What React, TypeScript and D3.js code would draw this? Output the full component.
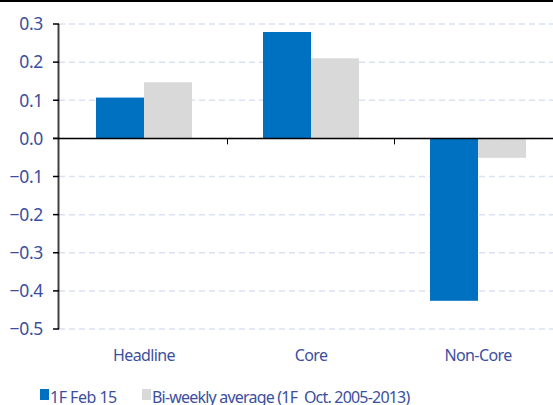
import React from "react";
import * as d3 from "d3";

const categories = ["Headline", "Core", "Non-Core"];
const seriesNames = ["1F Feb 15", "Bi-weekly average (1F  Oct. 2005-2013)"];
const febValues = [0.107, 0.279, -0.426];
const avgValues = [0.147, 0.21, -0.051];
const yTicks = [0.3, 0.2, 0.1, 0.0, -0.1, -0.2, -0.3, -0.4, -0.5];

const colors = ["#0070c0", "#d9d9d9"];
const textColor = "#3b4f9e";
const font = "'Noto Sans', sans-serif";

export default function App() {
  const W = 553, H = 405;
  const x = d3.scaleBand<string>().domain(categories).range([60.5, 561.5]);
  const y = d3.scaleLinear().domain([-0.5, 0.3]).range([329, 24]);
  const barW = 48;
  const series = [febValues, avgValues];

  return (
    <div style={{ position: "absolute", left: 0, top: 0 }}>
      <svg width={W} height={H} style={{ display: "block", fontFamily: font }}>
        <rect x={0} y={0} width={W} height={H} fill="#fff" />
        <rect x={0} y={0} width={W} height={2} fill="#000" />
        {yTicks.map((t) => (
          <line key={"g" + t} x1={59} x2={W} y1={y(t)} y2={y(t)} stroke="#d9e2f1" strokeWidth={1.5} strokeDasharray="6,4" />
        ))}
        {categories.map((c, i) =>
          series.map((s, j) => {
            const v = s[i];
            const cx = (x(c) as number) + x.bandwidth() / 2;
            const bx = cx - barW + j * barW;
            return (
              <rect key={c + j} x={bx} width={barW} y={Math.min(y(v), y(0))} height={Math.abs(y(v) - y(0))} fill={colors[j]} />
            );
          })
        )}
        <line x1={58.5} x2={58.5} y1={y(0.3)} y2={y(-0.5)} stroke="#404040" strokeWidth={2} />
        {yTicks.map((t) => (
          <g key={"t" + t}>
            <line x1={53} x2={59} y1={y(t)} y2={y(t)} stroke="#000" strokeWidth={1.5} />
            <text x={43} y={y(t)} dy="0.36em" textAnchor="end" fontSize={17.5} fill={textColor} letterSpacing={-0.3}>
              {d3.format(".1f")(t)}
            </text>
          </g>
        ))}
        <line x1={53} x2={W} y1={y(0)} y2={y(0)} stroke="#000" strokeWidth={1.5} />
        {categories.slice(1).map((c) => (
          <line key={"ct" + c} x1={x(c) as number} x2={x(c) as number} y1={y(0)} y2={y(0) + 6} stroke="#000" strokeWidth={1} />
        ))}
        {categories.map((c) => (
          <text key={"l" + c} x={(x(c) as number) + x.bandwidth() / 2} y={361} textAnchor="middle" fontSize={16} fill={textColor} letterSpacing={-0.6}>
            {c}
          </text>
        ))}
        <rect x={40} y={389} width={9} height={11} fill={colors[0]} />
        <text x={50} y={402.5} fontSize={16} fill={textColor} letterSpacing={-0.5}>{seriesNames[0]}</text>
        <rect x={142} y={389} width={9} height={11} fill={colors[1]} />
        <text x={152} y={402.5} fontSize={16} fill={textColor} letterSpacing={-0.8} style={{ whiteSpace: "pre" }}>{seriesNames[1]}</text>
      </svg>
    </div>
  );
}
